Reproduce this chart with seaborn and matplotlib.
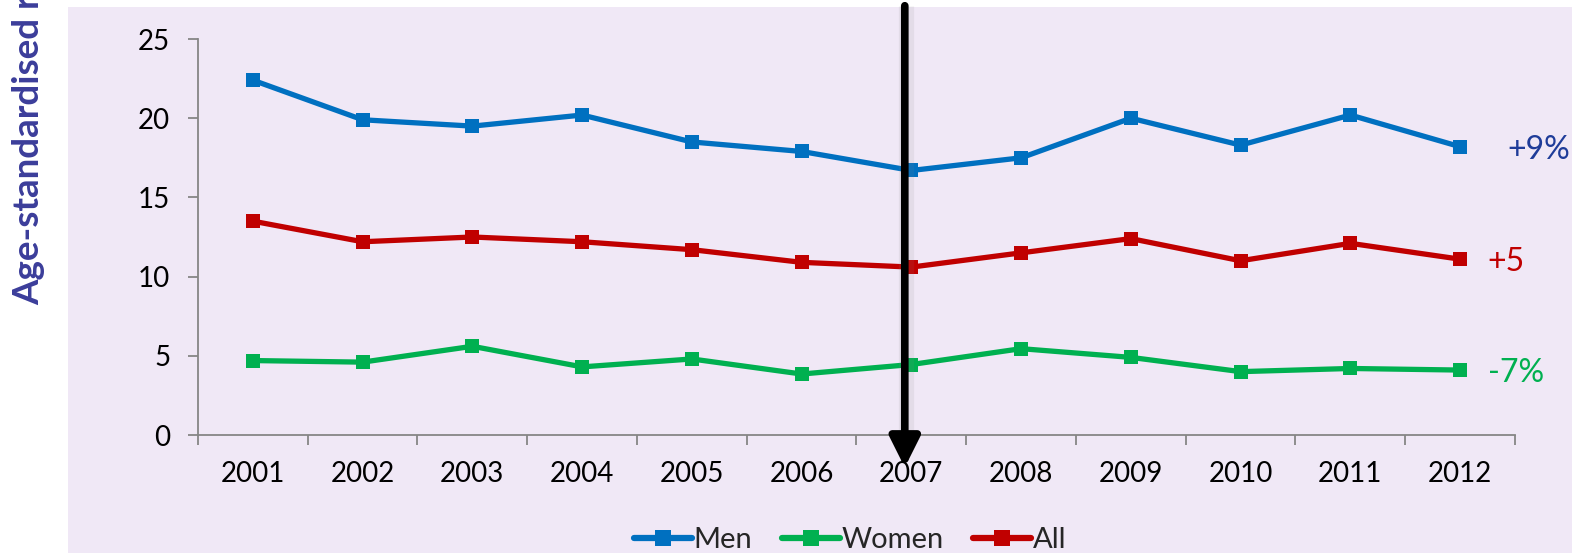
import matplotlib

matplotlib.use("Agg")
import matplotlib.pyplot as plt
import pandas as pd
import seaborn as sns
from matplotlib.patches import Rectangle
from matplotlib.ticker import FixedLocator

sns.set_theme(style="white")
plt.rcParams["font.family"] = ["Lato", "DejaVu Sans"]

years = ["2001", "2002", "2003", "2004", "2005", "2006",
         "2007", "2008", "2009", "2010", "2011", "2012"]
men = [22.4, 19.9, 19.5, 20.2, 18.5, 17.9, 16.7, 17.5, 20.0, 18.3, 20.2, 18.2]
women = [4.7, 4.6, 5.6, 4.3, 4.8, 3.85, 4.45, 5.45, 4.9, 4.0, 4.2, 4.1]
all_people = [13.5, 12.2, 12.5, 12.2, 11.7, 10.9, 10.6, 11.5, 12.4, 11.0, 12.1, 11.1]

series_names = ["Men", "Women", "All"]
colors = {"Men": "#0070C0", "Women": "#00B050", "All": "#C00000"}

# end-of-line change labels
change_labels = ["+9%", "-7%", "+5"]
change_series = ["Men", "Women", "All"]
change_colors = ["#1F3C99", "#00B050", "#C00000"]

BG = "#F0E8F6"

df = pd.DataFrame({
    "Year": years * 3,
    "Rate": men + women + all_people,
    "Group": ["Men"] * 12 + ["Women"] * 12 + ["All"] * 12,
})

fig = plt.figure(figsize=(15.72, 5.53), dpi=100)
fig.patch.set_facecolor("white")
fig.add_artist(Rectangle((68 / 1572, 0), 1, 1 - 7 / 553, transform=fig.transFigure,
                         facecolor=BG, edgecolor="none", zorder=-1))

ax = fig.add_axes([198 / 1572, 1 - 435 / 553, (1515 - 198) / 1572, 396 / 553])
ax.patch.set_visible(False)

sns.lineplot(data=df, x="Year", y="Rate", hue="Group", style="Group",
             hue_order=series_names, style_order=series_names,
             palette=colors, markers={"Men": "s", "Women": "s", "All": "s"},
             dashes=False, linewidth=3.8, markersize=10.5, markeredgewidth=0,
             sort=False, ax=ax)

ax.set_xlim(-0.5, len(years) - 0.5)
ax.set_ylim(0, 25)
ax.set_yticks([0, 5, 10, 15, 20, 25])
ax.set_xlabel("")
ax.set_ylabel("")

for side in ["top", "right"]:
    ax.spines[side].set_visible(False)
for side in ["left", "bottom"]:
    ax.spines[side].set_color("#868686")
    ax.spines[side].set_linewidth(1.3)

ax.xaxis.set_minor_locator(FixedLocator([i - 0.5 for i in range(len(years) + 1)]))
ax.tick_params(axis="x", which="major", length=0, pad=19, labelsize=20, colors="black")
ax.tick_params(axis="x", which="minor", length=7, width=1.3, color="#868686", direction="out", bottom=True)
ax.tick_params(axis="y", which="major", length=7, width=1.3, color="#868686", direction="out",
               left=True, pad=13, labelsize=20, labelcolor="black")

# change labels at the right end of each line
values = {"Men": men, "Women": women, "All": all_people}
for label, name, color in zip(change_labels, change_series, change_colors):
    x_off = 0.43 if name == "Men" else 0.25
    ax.text(len(years) - 1 + x_off, values[name][-1], label, color=color,
            fontsize=23, ha="left", va="center_baseline")

# vertical arrow marking 2007, with a soft shadow
ax.plot([5.95, 5.95], [-0.6, 27.1], color="#888888", lw=11, alpha=0.12,
        solid_capstyle="butt", clip_on=False, zorder=4)
ax.annotate("", xy=(5.94, -2.05), xytext=(5.94, 27.1),
            arrowprops=dict(arrowstyle="-|>,head_length=1.0,head_width=0.5",
                            lw=5.5, color="black", shrinkA=0, shrinkB=0,
                            mutation_scale=18),
            annotation_clip=False, zorder=5)

handles, labels = ax.get_legend_handles_labels()
for h in handles:
    h.set_linewidth(4.5)
    h.set_markersize(12)
ax.legend(handles, labels, loc="center", bbox_to_anchor=(0.495, -0.265), ncol=3,
          frameon=False, fontsize=21, handlelength=2.0, handletextpad=0.05,
          columnspacing=1.0)

fig.text(29 / 1572, 1 - 305 / 553, "Age-standardised rate per 100,000", rotation=90,
         ha="center", va="bottom", fontsize=26.5, fontweight="bold", color="#3B3D9A")

fig.savefig("out.png", dpi=100, facecolor="white")
